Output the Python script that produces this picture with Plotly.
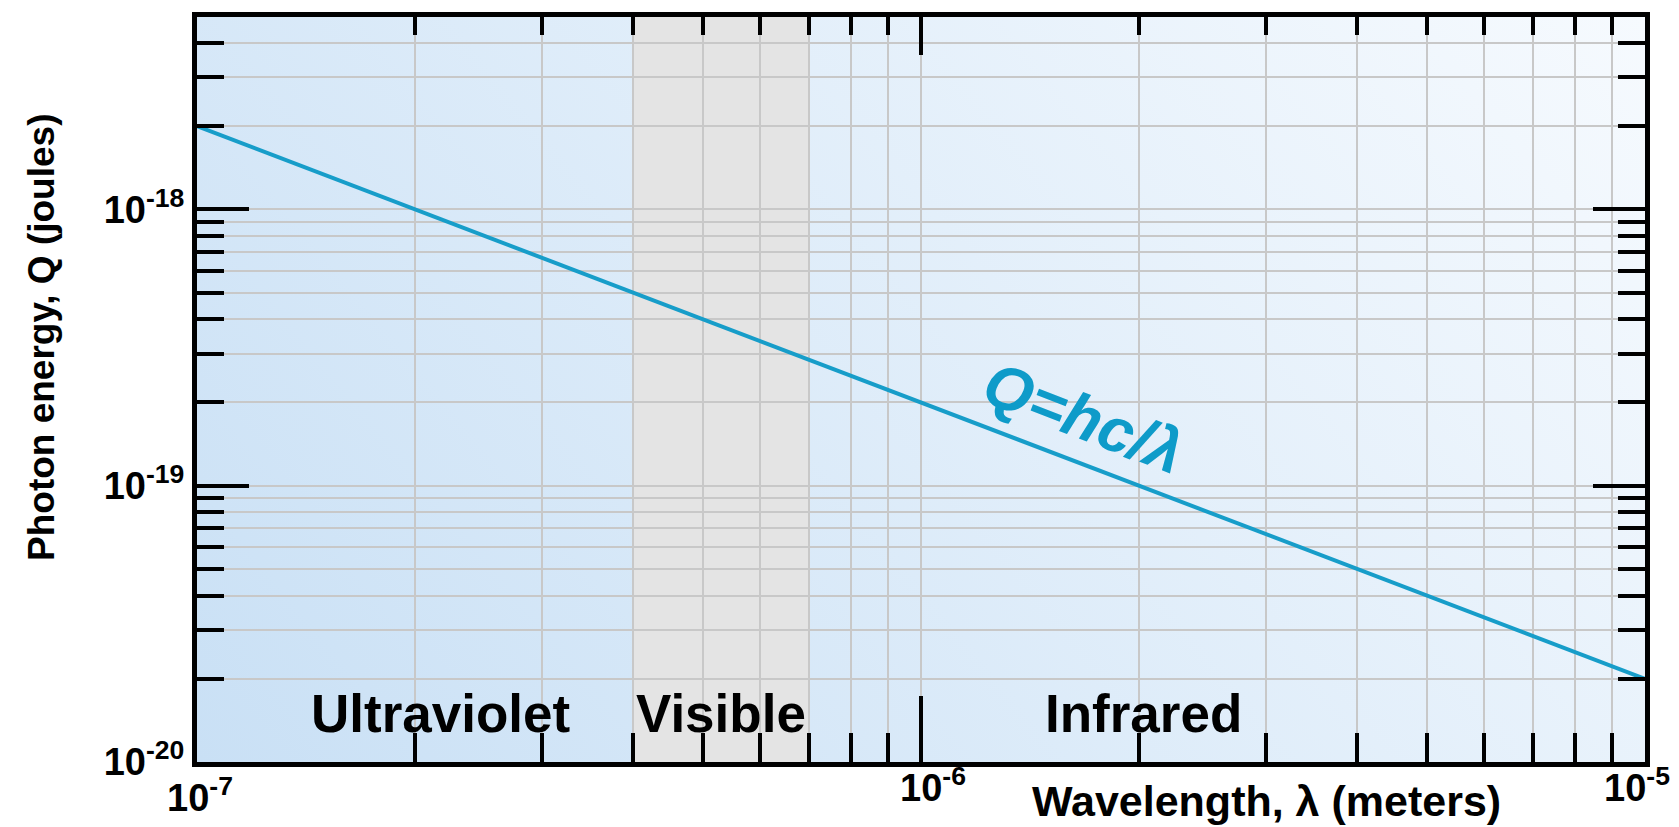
import base64
import numpy as np
import plotly.graph_objects as go

# ---- data ----
wavelength_m = [1e-7, 1e-5]            # line end points (meters)
photon_energy_j = [2e-18, 2e-20]       # Q = hc/lambda read at the ends (joules)

x_tick_vals = [1e-7, 1e-6, 1e-5]
x_tick_text = ["10<sup>-7</sup>", "10<sup>-6</sup>", "10<sup>-5</sup>"]
y_tick_vals = [1e-20, 1e-19, 1e-18]
y_tick_text = ["10<sup>-20</sup>", "10<sup>-19</sup>", "10<sup>-18</sup>"]

visible_band = [4e-7, 7e-7]
region_names = ["Ultraviolet", "Visible", "Infrared"]
region_x = [2.17e-7, 5.3e-7, 2.03e-6]
region_y = 1.5e-20

formula_text = "Q=hc/λ"
formula_x = 1.68e-6
formula_y = 1.77e-19

x_title = "Wavelength, λ (meters)"
y_title = "Photon energy, Q (joules)"

# ---- style ----
FONT = "Liberation Sans"
LINE_COLOR = "#179dc9"
GRID = "#c8c8c8"
W, H = 1679, 827
PLOT_L, PLOT_R, PLOT_T, PLOT_B = 197, 1645, 12, 762   # plot area in window pixels
ML, MR, MT, MB = PLOT_L, W - PLOT_R, PLOT_T, H - PLOT_B
Y_RANGE = [-20, -17.304]


def svg_uri(body):
    svg = ("<svg xmlns='http://www.w3.org/2000/svg' width='100' height='100' "
           "viewBox='0 0 100 100' preserveAspectRatio='none'>" + body + "</svg>")
    return "data:image/svg+xml;base64," + base64.b64encode(svg.encode()).decode()


def bold(s):
    return "<b>" + s + "</b>"


bg_src = svg_uri(
    "<defs><linearGradient id='g' gradientUnits='objectBoundingBox' "
    "x1='0' y1='1' x2='1.207' y2='0.483'>"
    "<stop offset='0' stop-color='#c9e0f5'/><stop offset='1' stop-color='#f6fafe'/>"
    "</linearGradient></defs><rect x='0' y='0' width='100' height='100' fill='url(#g)'/>")
band_src = svg_uri("<rect x='0' y='0' width='100' height='100' fill='#e4e4e4'/>")

fig = go.Figure()
fig.add_trace(go.Scatter(
    x=wavelength_m, y=photon_energy_j, mode="lines",
    line=dict(color=LINE_COLOR, width=4), showlegend=False, hoverinfo="skip"))
# carrier for the top tick axis
fig.add_trace(go.Scatter(
    x=wavelength_m, y=photon_energy_j, xaxis="x2", mode="lines",
    line=dict(width=0), opacity=0, showlegend=False, hoverinfo="skip"))

minor_x = dict(ticks="inside", ticklen=29, tickwidth=4, tickcolor="black",
               dtick="D1", showgrid=True, gridcolor=GRID, gridwidth=1.5)
minor_y = dict(ticks="inside", ticklen=27, tickwidth=4, tickcolor="black",
               dtick="D1", showgrid=True, gridcolor=GRID, gridwidth=1.5)

band_lo, band_hi = np.log10(visible_band[0]), np.log10(visible_band[1])

fig.update_layout(
    width=W, height=H,
    margin=dict(l=ML, r=MR, t=MT, b=MB),
    paper_bgcolor="white", plot_bgcolor="white",
    showlegend=False,
    font=dict(family=FONT, color="black"),
    xaxis=dict(type="log", range=[-7, -5], tickvals=x_tick_vals, ticktext=x_tick_text,
               showticklabels=False, ticks="inside", ticklen=66, tickwidth=4,
               tickcolor="black", showline=True, linewidth=5, linecolor="black",
               mirror=True, showgrid=True, gridcolor=GRID, gridwidth=1.5,
               minor=minor_x, zeroline=False),
    xaxis2=dict(type="log", range=[-7, -5], overlaying="x", side="top", anchor="y",
                tickvals=x_tick_vals, showticklabels=False, ticks="inside", ticklen=38,
                tickwidth=4, tickcolor="black", showline=False, showgrid=False,
                minor=dict(ticks="inside", ticklen=18, tickwidth=4, tickcolor="black",
                           dtick="D1", showgrid=False),
                zeroline=False),
    yaxis=dict(type="log", range=Y_RANGE, tickvals=y_tick_vals,
               ticktext=[bold(t) for t in y_tick_text],
               ticks="inside", ticklen=52, tickwidth=4, tickcolor="black",
               showline=True, linewidth=5, linecolor="black", mirror="ticks",
               showgrid=True, gridcolor=GRID, gridwidth=1.5, minor=minor_y,
               tickfont=dict(family=FONT, size=38, color="black"),
               zeroline=False),
    images=[
        dict(source=bg_src, xref="paper", yref="paper", x=0, y=1, sizex=1, sizey=1,
             xanchor="left", yanchor="top", sizing="stretch", layer="below"),
        dict(source=band_src, xref="x", yref="paper", x=band_lo, y=1,
             sizex=band_hi - band_lo, sizey=1, xanchor="left", yanchor="top",
             sizing="stretch", layer="below"),
    ],
)

ann = []
# x tick labels
shifts = [(3, -33), (12, -23), (-8, -23)]
for v, t, (dx, dy) in zip(x_tick_vals, x_tick_text, shifts):
    ann.append(dict(x=np.log10(v), y=0, xref="x", yref="paper", text=bold(t), showarrow=False,
                    xanchor="center", yanchor="middle", xshift=dx, yshift=dy,
                    font=dict(family=FONT, size=38, color="black")))
# region labels
for name, xv in zip(region_names, region_x):
    ann.append(dict(x=np.log10(xv), y=np.log10(region_y), xref="x", yref="y", text=bold(name),
                    showarrow=False, xanchor="center", yanchor="middle",
                    font=dict(family=FONT, size=53, color="black")))
# formula
ann.append(dict(x=np.log10(formula_x), y=np.log10(formula_y), xref="x", yref="y",
                text="<b><i>" + formula_text + "</i></b>", showarrow=False, textangle=21,
                xanchor="center", yanchor="middle",
                font=dict(family=FONT, size=62, color="#0e9bc9")))
# axis titles
ann.append(dict(x=1, y=0, xref="paper", yref="paper", text=bold(x_title), showarrow=False,
                xanchor="center", yanchor="middle", xshift=1266 - PLOT_R, yshift=-39,
                font=dict(family=FONT, size=43, color="black")))
ann.append(dict(x=0, y=1, xref="paper", yref="paper", text=bold(y_title), showarrow=False,
                textangle=-90, xanchor="center", yanchor="middle",
                xshift=41 - PLOT_L, yshift=-(333 - PLOT_T),
                font=dict(family=FONT, size=37, color="black")))
fig.update_layout(annotations=ann)

fig.write_html("out.html", config={"displayModeBar": False},
               post_script="document.body.style.margin='0';")
